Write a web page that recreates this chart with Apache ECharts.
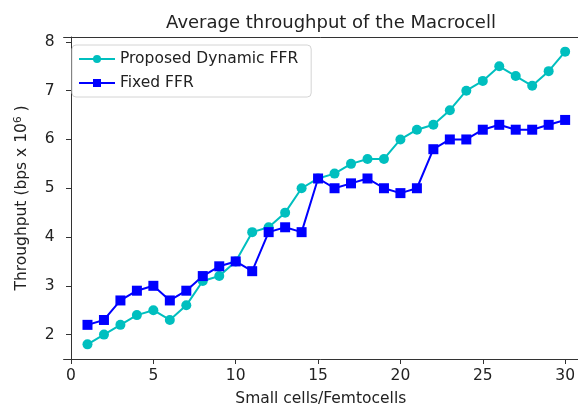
<!DOCTYPE html>
<html>
<head>
<meta charset="utf-8">
<script src="https://cdn.jsdelivr.net/npm/echarts@6/dist/echarts.min.js"></script>
<style>html,body{margin:0;padding:0;background:#fff}#c{width:578px;height:412px}</style>
</head>
<body>
<div id="c"></div>
<script>
var smallCells = [1,2,3,4,5,6,7,8,9,10,11,12,13,14,15,16,17,18,19,20,21,22,23,24,25,26,27,28,29,30];
var dynamicFFR = [1.8,2.0,2.2,2.4,2.5,2.3,2.6,3.1,3.2,3.5,4.1,4.2,4.5,5.0,5.2,5.3,5.5,5.6,5.6,6.0,6.2,6.3,6.6,7.0,7.2,7.5,7.3,7.1,7.4,7.8];
var fixedFFR = [2.2,2.3,2.7,2.9,3.0,2.7,2.9,3.2,3.4,3.5,3.3,4.1,4.2,4.1,5.2,5.0,5.1,5.2,5.0,4.9,5.0,5.8,6.0,6.0,6.2,6.3,6.2,6.2,6.3,6.4];
var xTicks = [0,5,10,15,20,25,30];
var yTicks = [2,3,4,5,6,7,8];

function pairs(xs, ys){ return xs.map(function(x,i){ return [x, ys[i]]; }); }

var font = 'DejaVu Sans';
var txt = '#222';
var chart = echarts.init(document.getElementById('c'), null, {renderer:'canvas'});
chart.setOption({
  animation: false,
  backgroundColor: '#fff',
  title: {
    text: 'Average throughput of the Macrocell',
    left: 326, top: 9, textAlign: 'center',
    textStyle: {fontFamily: font, fontSize: 18, fontWeight: 'normal', color: txt}
  },
  legend: {
    left: 72, top: 45, orient: 'vertical',
    backgroundColor: '#fff', borderColor: '#d4d4d4', borderWidth: 1, borderRadius: 4,
    padding: [6, 13, 6, 6], itemGap: 8, itemWidth: 36, itemHeight: 10,
    textStyle: {fontFamily: font, fontSize: 15.5, color: txt},
    data: ['Proposed Dynamic FFR', 'Fixed FFR']
  },
  grid: {left: 63.6, top: 37, right: 0, bottom: 47, show: false, containLabel: false},
  xAxis: [{
    type: 'value', min: -0.45, max: 30.78,
    name: 'Small cells/Femtocells', nameLocation: 'middle', nameGap: 32,
    nameTextStyle: {fontFamily: font, fontSize: 15.5, color: txt},
    axisLine: {show: true, lineStyle: {color: '#333', width: 1}},
    axisTick: {show: true, length: 5, inside: false, customValues: xTicks, lineStyle: {color: '#333'}},
    axisLabel: {customValues: xTicks, fontFamily: font, fontSize: 15.5, color: txt, margin: 9},
    splitLine: {show: false}
  }, {
    type: 'value', min: -0.45, max: 30.78, position: 'top',
    axisLine: {show: true, onZero: false, lineStyle: {color: '#333', width: 1}},
    axisTick: {show: false}, axisLabel: {show: false}, splitLine: {show: false}
  }],
  yAxis: {
    type: 'value', min: 1.5, max: 8.1,
    name: 'Throughput (bps x 10{sup|6} )', nameLocation: 'middle', nameGap: 33, nameRotate: 90,
    nameTextStyle: {fontFamily: font, fontSize: 15.5, color: txt,
      rich: {sup: {fontFamily: font, fontSize: 10.5, color: txt, verticalAlign: 'bottom', padding: [0,0,7,0]}}},
    axisLine: {show: true, lineStyle: {color: '#333', width: 1}},
    axisTick: {show: true, length: 5, inside: false, customValues: yTicks, lineStyle: {color: '#333'}},
    axisLabel: {customValues: yTicks, fontFamily: font, fontSize: 15.5, color: txt, margin: 9},
    splitLine: {show: false}
  },
  series: [
    {
      name: 'Proposed Dynamic FFR', type: 'line', data: pairs(smallCells, dynamicFFR),
      symbol: 'circle', symbolSize: 10, showAllSymbol: true,
      lineStyle: {color: '#00BFBF', width: 2}, itemStyle: {color: '#00BFBF', borderWidth: 0}, color: '#00BFBF'
    },
    {
      name: 'Fixed FFR', type: 'line', data: pairs(smallCells, fixedFFR),
      symbol: 'rect', symbolSize: 10, showAllSymbol: true,
      lineStyle: {color: '#0000FF', width: 2}, itemStyle: {color: '#0000FF', borderWidth: 0}, color: '#0000FF'
    }
  ]
});
</script>
</body>
</html>
